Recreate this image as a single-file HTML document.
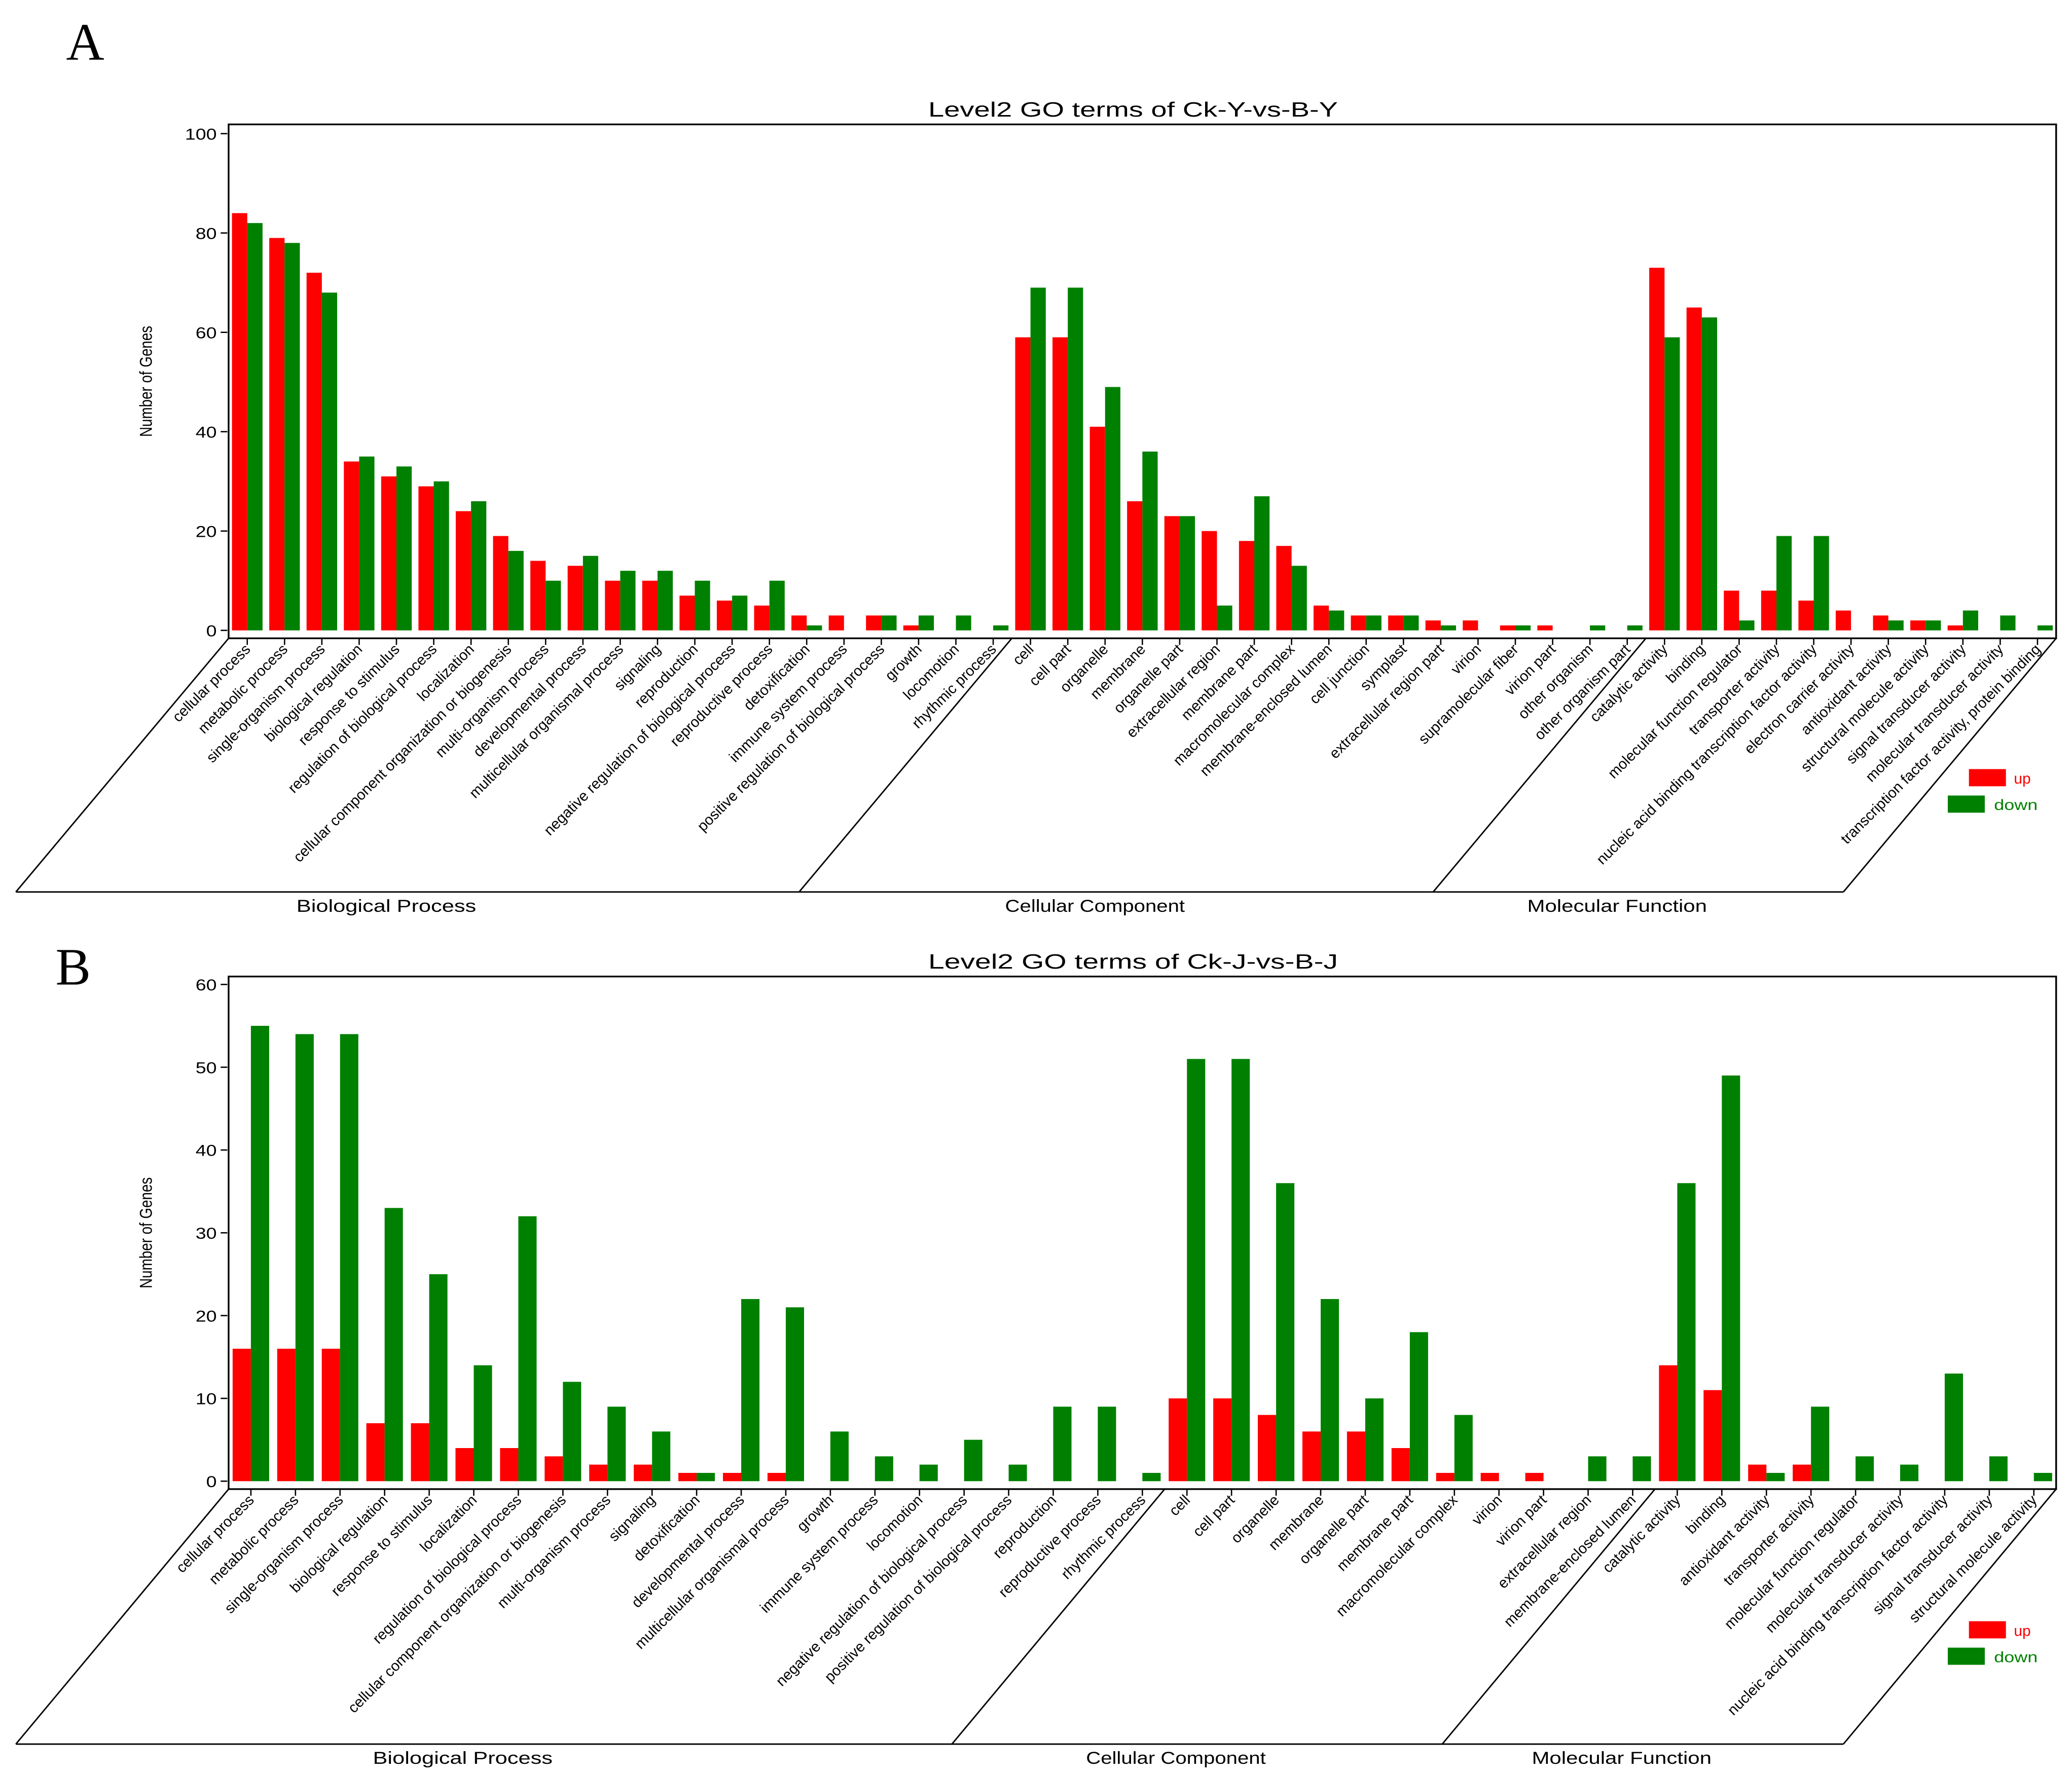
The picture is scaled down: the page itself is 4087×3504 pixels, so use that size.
<!DOCTYPE html>
<html><head><meta charset="utf-8"><style>
html,body{margin:0;padding:0;background:#fff}
svg{display:block}
text{font-family:"Liberation Sans",sans-serif}
</style></head><body>
<svg id="fig" xmlns="http://www.w3.org/2000/svg" width="4087" height="3504" viewBox="0 0 1568 1344">
<text x="50" y="45" font-size="40" style="font-family:'Liberation Serif',serif">A</text>
<text x="42" y="745" font-size="40" style="font-family:'Liberation Serif',serif">B</text>
</svg>
<script>
const catsA_BP=["cellular process","metabolic process","single-organism process","biological regulation","response to stimulus","regulation of biological process","localization","cellular component organization or biogenesis","multi-organism process","developmental process","multicellular organismal process","signaling","reproduction","negative regulation of biological process","reproductive process","detoxification","immune system process","positive regulation of biological process","growth","locomotion","rhythmic process"];
const catsA_CC=["cell","cell part","organelle","membrane","organelle part","extracellular region","membrane part","macromolecular complex","membrane-enclosed lumen","cell junction","symplast","extracellular region part","virion","supramolecular fiber","virion part","other organism","other organism part"];
const catsA_MF=["catalytic activity","binding","molecular function regulator","transporter activity","nucleic acid binding transcription factor activity","electron carrier activity","antioxidant activity","structural molecule activity","signal transducer activity","molecular transducer activity","transcription factor activity, protein binding"];
const upA=[84,79,72,34,31,29,24,19,14,13,10,10,7,6,5,3,3,3,1,0,0, 59,59,41,26,23,20,18,17,5,3,3,2,2,1,1,0,0, 73,65,8,8,6,4,3,2,1,0,0];
const downA=[82,78,68,35,33,30,26,16,10,15,12,12,10,7,10,1,0,3,3,3,1, 69,69,49,36,23,5,27,13,4,3,3,1,0,1,0,1,1, 59,63,2,19,19,0,2,2,4,3,1];
const ticksA=[0,20,40,60,80,100];

const catsB_BP=["cellular process","metabolic process","single-organism process","biological regulation","response to stimulus","localization","regulation of biological process","cellular component organization or biogenesis","multi-organism process","signaling","detoxification","developmental process","multicellular organismal process","growth","immune system process","locomotion","negative regulation of biological process","positive regulation of biological process","reproduction","reproductive process","rhythmic process"];
const catsB_CC=["cell","cell part","organelle","membrane","organelle part","membrane part","macromolecular complex","virion","virion part","extracellular region","membrane-enclosed lumen"];
const catsB_MF=["catalytic activity","binding","antioxidant activity","transporter activity","molecular function regulator","molecular transducer activity","nucleic acid binding transcription factor activity","signal transducer activity","structural molecule activity"];
const upB=[16,16,16,7,7,4,4,3,2,2,1,1,1,0,0,0,0,0,0,0,0, 10,10,8,6,6,4,1,1,1,0,0, 14,11,2,2,0,0,0,0,0];
const downB=[55,54,54,33,25,14,32,12,9,6,1,22,21,6,3,2,5,2,9,9,1, 51,51,36,22,10,18,8,0,0,3,3, 36,49,1,9,3,2,13,3,1];
const ticksB=[0,10,20,30,40,50,60];

const NS="http://www.w3.org/2000/svg";
const svg=document.getElementById('fig');
function mk(tag,attrs,parent){const e=document.createElementNS(NS,tag);for(const k in attrs)e.setAttribute(k,attrs[k]);(parent||svg).appendChild(e);return e;}

function panel(o){
  const g=mk('g',{});
  
  
  const cats=o.bp.concat(o.cc,o.mf);
  const N=cats.length;
  const X0=173,X1=1556,Y0=o.top,AX=o.axisY,Z=o.zeroY,YT=o.topTickY;
  const w=(X1-X0)/N;
  const xc=i=>X0+(i+0.5)*w;
  const ys=v=>Z-(v/o.max)*(Z-YT);
  const fr=mk('rect',{x:X0,y:Y0,width:X1-X0,height:AX-Y0,fill:'none',stroke:'#000','stroke-width':1.3},g);
  
  
  const t=mk('text',{x:(X0+X1)/2-7,y:Y0-6,'text-anchor':'middle','font-size':15.5,textLength:310,lengthAdjust:'spacingAndGlyphs'},g);
  
  
  t.textContent=o.title;
  o.ticks.forEach(v=>{
    mk('line',{x1:X0-6,x2:X0-1,y1:ys(v),y2:ys(v),stroke:'#000','stroke-width':1},g);
    const tl=mk('text',{x:0,y:0,'text-anchor':'end','font-size':12,transform:`translate(${X0-9},${ys(v)+4.5}) scale(1.2,1)`},g);
    
    
    tl.textContent=v;
  });
  const yl=mk('text',{x:0,y:0,'text-anchor':'middle','font-size':13,transform:`translate(115,${(Y0+AX)/2}) rotate(-90) scale(0.82,1)`},g);
  
  
  yl.textContent='Number of Genes';
  const bw=w*0.41;
  cats.forEach((c,i)=>{
    const x=xc(i);
    if(o.up[i]>0){const r=mk('rect',{x:x-bw,y:ys(o.up[i]),width:bw,height:Z-ys(o.up[i]),fill:'#ff0000'},g);
      
      }
    if(o.down[i]>0){const r=mk('rect',{x:x,y:ys(o.down[i]),width:bw,height:Z-ys(o.down[i]),fill:'#008000'},g);
      
      }
    mk('line',{x1:x,x2:x,y1:AX,y2:AX+5,stroke:'#000','stroke-width':1},g);
    const lb=mk('text',{x:0,y:0,'text-anchor':'end','font-size':11.2,transform:`translate(${x+3},${AX+9}) rotate(-45)`},g);
    
    
    lb.textContent=c;
  });
  const dx=161, B=o.bottom;
  const bounds=[0,o.bp.length,o.bp.length+o.cc.length,N].map(k=>X0+k*w);
  bounds.forEach(b=>{mk('line',{x1:b,y1:AX,x2:b-dx,y2:B,stroke:'#000','stroke-width':1.1},g);});
  mk('line',{x1:bounds[0]-dx,y1:B,x2:bounds[3]-dx,y2:B,stroke:'#000','stroke-width':1.1},g);
  const names=['Biological Process','Cellular Component','Molecular Function'];
  for(let k=0;k<3;k++){
    const gl=mk('text',{x:(bounds[k]+bounds[k+1])/2-dx-16,y:B+15,'text-anchor':'middle','font-size':13,textLength:136,lengthAdjust:'spacingAndGlyphs'},g);
    
    
    gl.textContent=names[k];
  }
  const lu=mk('rect',{x:1490,y:o.legY,width:28,height:13,fill:'#ff0000'},g);
  
  
  const lut=mk('text',{x:1524,y:o.legY+11,'font-size':11.5,fill:'#ff0000'},g);
  
  
  lut.textContent='up';
  const ld=mk('rect',{x:1474,y:o.legY+20,width:28,height:13,fill:'#008000'},g);
  
  
  const ldt=mk('text',{x:1509,y:o.legY+31,'font-size':11.5,fill:'#008000',textLength:33,lengthAdjust:'spacingAndGlyphs'},g);
  
  
  ldt.textContent='down';
}
panel({id:'panel-a',title:'Level2 GO terms of Ck-Y-vs-B-Y',bp:catsA_BP,cc:catsA_CC,mf:catsA_MF,up:upA,down:downA,ticks:ticksA,max:100,
  top:94,axisY:483,zeroY:477,topTickY:101,bottom:675,legY:582});
panel({id:'panel-b',title:'Level2 GO terms of Ck-J-vs-B-J',bp:catsB_BP,cc:catsB_CC,mf:catsB_MF,up:upB,down:downB,ticks:ticksB,max:60,
  top:739,axisY:1127,zeroY:1121,topTickY:745,bottom:1320,legY:1227});
</script>
</body></html>
